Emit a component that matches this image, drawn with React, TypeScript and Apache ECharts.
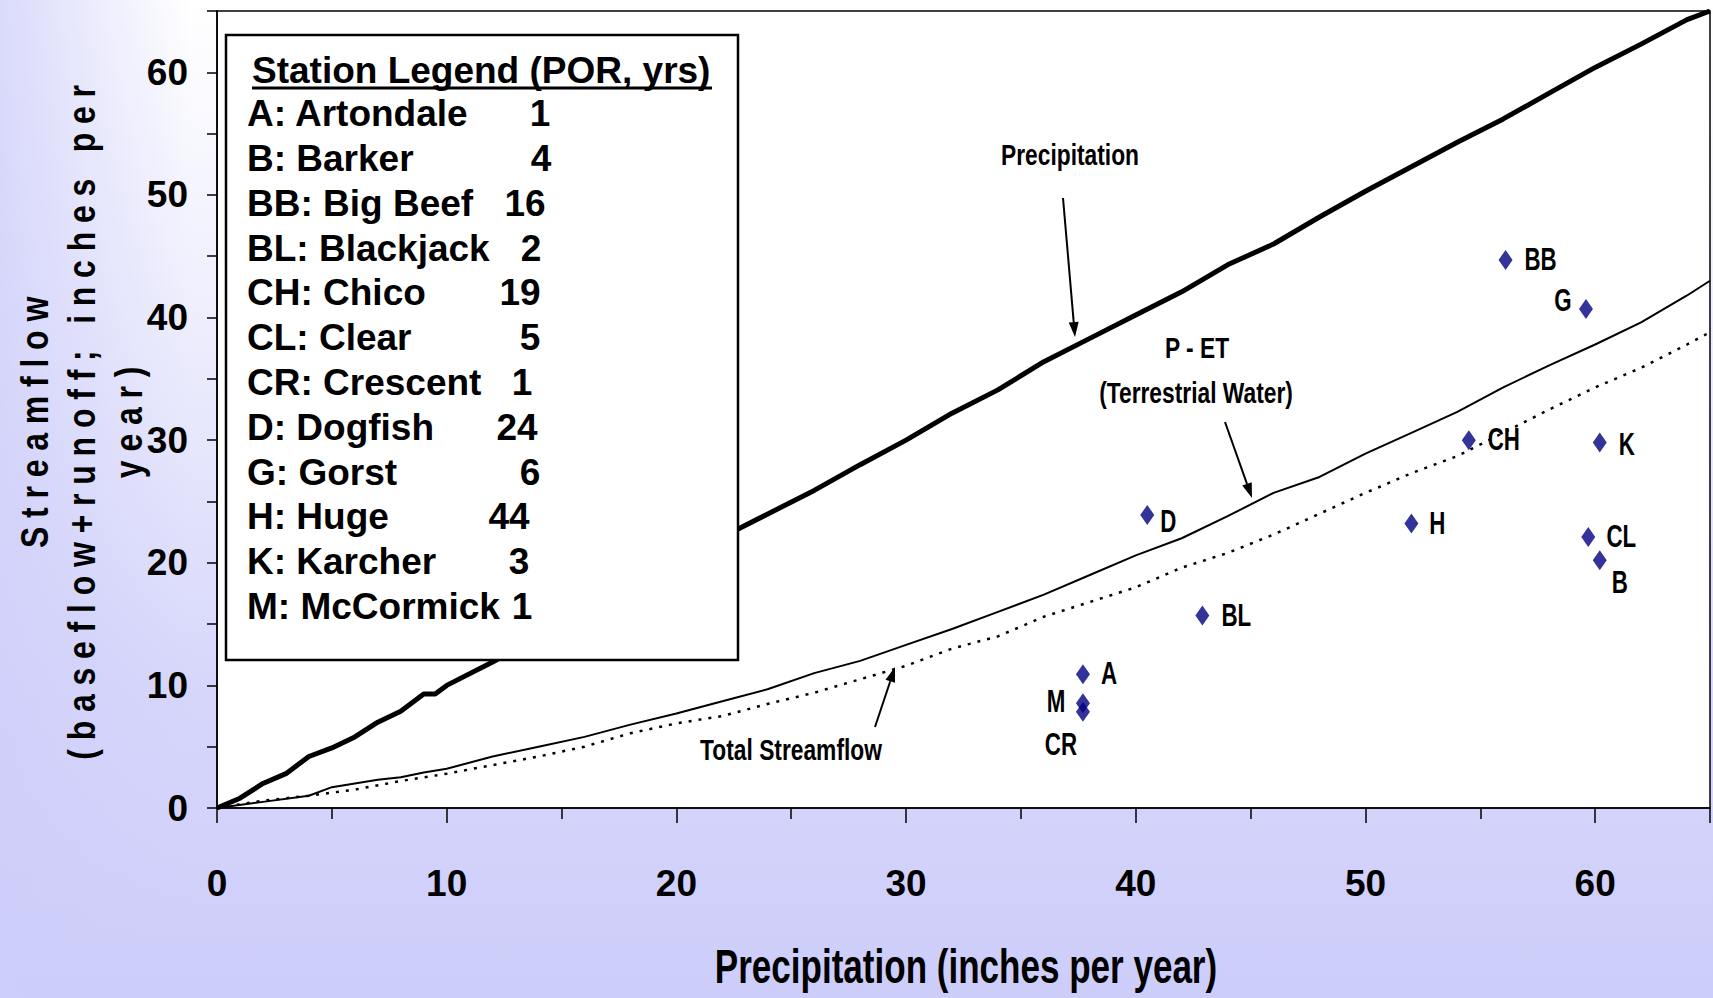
import React, { useEffect, useRef } from "react";
import * as echarts from "echarts";

// ---------- data ----------
const stationCodes = ["A", "B", "BB", "BL", "CH", "CL", "CR", "D", "G", "H", "K", "M"];
const stationNames = ["Artondale", "Barker", "Big Beef", "Blackjack", "Chico", "Clear", "Crescent", "Dogfish", "Gorst", "Huge", "Karcher", "McCormick"];
const stationPOR = [1, 4, 16, 2, 19, 5, 1, 24, 6, 44, 3, 1];
const stationPrecip = [37.7, 60.2, 56.1, 42.9, 54.5, 59.7, 37.7, 40.5, 59.6, 52.0, 60.2, 37.7];
const stationFlow = [10.9, 20.2, 44.7, 15.7, 30.0, 22.1, 7.85, 23.9, 40.7, 23.2, 29.8, 8.55];

const precipX = [0, 1, 2, 3, 4, 5, 6, 7, 8, 9, 9.5, 10, 12, 14, 16, 18, 20, 22, 24, 26, 28, 30, 32, 34, 36, 38, 40, 42, 44, 46, 48, 50, 52, 54, 56, 58, 60, 62, 64, 65];
const precipY = [0, 0.8, 2.0, 2.8, 4.2, 4.9, 5.8, 7.0, 7.9, 9.3, 9.3, 10.0, 11.9, 14.0, 16.1, 17.9, 20.2, 22.1, 24.0, 25.9, 28.0, 30.0, 32.2, 34.1, 36.4, 38.3, 40.2, 42.1, 44.3, 46.0, 48.2, 50.3, 52.3, 54.3, 56.2, 58.3, 60.4, 62.3, 64.3, 65.0];

const petX = [0, 2, 4, 5, 7, 8, 9, 10, 12, 14, 16, 18, 20, 22, 24, 26, 28, 30, 32, 34, 36, 38, 40, 42, 44, 46, 48, 50, 52, 54, 56, 58, 60, 62, 64, 65];
const petY = [0, 0.5, 1.0, 1.7, 2.3, 2.5, 2.9, 3.2, 4.2, 5.0, 5.8, 6.8, 7.7, 8.7, 9.7, 11.0, 12.0, 13.3, 14.6, 16.0, 17.4, 19.0, 20.6, 22.0, 23.8, 25.7, 27.0, 28.9, 30.6, 32.3, 34.3, 36.1, 37.8, 39.6, 41.8, 43.0];

const flowX = [0, 2, 4, 6, 8, 10, 12, 14, 16, 18, 20, 22, 24, 26, 28, 30, 32, 34, 36, 38, 40, 42, 44, 46, 48, 50, 52, 54, 56, 58, 60, 62, 64, 65];
const flowY = [0, 0.6, 1.0, 1.5, 2.2, 2.8, 3.5, 4.2, 5.0, 6.1, 6.9, 7.5, 8.5, 9.4, 10.5, 11.6, 13.0, 14.0, 15.6, 16.8, 18.0, 19.6, 20.8, 22.3, 24.0, 25.7, 27.3, 28.7, 30.6, 32.5, 34.3, 35.9, 37.8, 38.8];

const xMin = 0, xMax = 65, xStep = 10;
const yMin = 0, yMax = 65, yStep = 10;

const xTitle = "Precipitation (inches per year)";
const yTitle = "Streamflow\n(baseflow+runoff; inches per\nyear)";
const legendTitle = "Station Legend (POR, yrs)";

// ---------- styling / layout ----------
const ARIAL = "'Liberation Sans', Arial, sans-serif";
const SPACED = "'Liberation Sans', 'Spaced Narrow', Arial, sans-serif";

// label offsets (px) relative to each marker centre
const labelOffsets: Record<string, [number, number]> = {
  A: [26, -1], B: [20, 22], BB: [35, 0], BL: [34, 0], CH: [35, 0], CL: [33, 0],
  CR: [-22, 33], D: [21, 7], G: [-23, -8], H: [26, 0], K: [27, 2], M: [-27, -1],
};
const legendNumX = [540, 541, 525, 531, 520, 530, 522, 517, 530, 509, 519, 522];

function arrow(x1: number, y1: number, x2: number, y2: number): any[] {
  const a = Math.atan2(y2 - y1, x2 - x1);
  const L = 15, W = 5;
  const bx = x2 - L * Math.cos(a), by = y2 - L * Math.sin(a);
  const px = -Math.sin(a) * W, py = Math.cos(a) * W;
  return [
    { type: "line", z: 20, shape: { x1, y1, x2: bx, y2: by }, style: { stroke: "#000", lineWidth: 2 } },
    { type: "polygon", z: 20, shape: { points: [[x2, y2], [bx + px, by + py], [bx - px, by - py]] }, style: { fill: "#000" } },
  ];
}

function annText(text: string, x: number, y: number): any {
  return {
    type: "text", z: 20, x, y, scaleX: 0.76,
    style: { text, fill: "#000", fontSize: 30, fontWeight: "bold", fontFamily: ARIAL, align: "center", verticalAlign: "middle" },
  };
}

export default function App() {
  const ref = useRef<HTMLDivElement>(null);

  useEffect(() => {
    const styleEl = document.createElement("style");
    styleEl.textContent = `text[style*="Spaced Narrow"]{letter-spacing:10.7px;}`;
    document.head.appendChild(styleEl);

    const chart = echarts.init(ref.current!, null, { renderer: "svg" });

    const legendEls: any[] = [
      {
        type: "rect", z: 10, shape: { x: 226, y: 35, width: 512, height: 625 },
        style: { fill: "#fff", stroke: "#000", lineWidth: 2.5 },
      },
      {
        type: "text", z: 11, x: 252, y: 70,
        style: { text: legendTitle, fill: "#000", fontSize: 37, fontWeight: "bold", fontFamily: ARIAL, align: "left", verticalAlign: "middle" },
      },
      { type: "line", z: 11, shape: { x1: 252, y1: 88, x2: 712, y2: 88 }, style: { stroke: "#000", lineWidth: 3 } },
    ];
    stationCodes.forEach((c, i) => {
      const y = 113.6 + i * 44.8;
      legendEls.push({
        type: "text", z: 11, x: 247, y,
        style: { text: `${c}: ${stationNames[i]}`, fill: "#000", fontSize: 37, fontWeight: "bold", fontFamily: ARIAL, align: "left", verticalAlign: "middle" },
      });
      legendEls.push({
        type: "text", z: 11, x: legendNumX[i], y,
        style: { text: String(stationPOR[i]), fill: "#000", fontSize: 37, fontWeight: "bold", fontFamily: ARIAL, align: "center", verticalAlign: "middle" },
      });
    });

    const option: any = {
      animation: false,
      backgroundColor: "transparent",
      grid: {
        left: 217, top: 11, right: -4, bottom: 190,
        show: true, backgroundColor: "#ffffff", borderColor: "#000", borderWidth: 1.5,
      },
      xAxis: {
        type: "value", min: xMin, max: xMax, interval: xStep,
        axisLine: { show: true, onZero: false, lineStyle: { color: "#000", width: 1.5 } },
        axisTick: { show: true, inside: false, length: 15, lineStyle: { color: "#000", width: 1.5 } },
        minorTick: { show: true, splitNumber: 2, length: 11, lineStyle: { color: "#000", width: 1.5 } },
        splitLine: { show: false },
        axisLabel: {
          margin: 57, color: "#000", fontSize: 37, fontWeight: "bold", fontFamily: ARIAL,
          formatter: (v: number) => (v > 60 ? "" : String(v)),
        },
      },
      yAxis: {
        type: "value", min: yMin, max: yMax, interval: yStep,
        axisLine: { show: true, onZero: false, lineStyle: { color: "#000", width: 1.5 } },
        axisTick: { show: true, inside: false, length: 10, lineStyle: { color: "#000", width: 1.5 } },
        minorTick: { show: true, splitNumber: 2, length: 10, lineStyle: { color: "#000", width: 1.5 } },
        splitLine: { show: false },
        axisLabel: {
          margin: 29, color: "#000", fontSize: 37, fontWeight: "bold", fontFamily: ARIAL,
          formatter: (v: number) => (v > 60 ? "" : String(v)),
        },
      },
      series: [
        {
          name: "Precipitation", type: "line", showSymbol: false, z: 3,
          data: precipX.map((x, i) => [x, precipY[i]]),
          lineStyle: { color: "#000", width: 5 },
        },
        {
          name: "P - ET", type: "line", showSymbol: false, z: 3,
          data: petX.map((x, i) => [x, petY[i]]),
          lineStyle: { color: "#000", width: 2 },
        },
        {
          name: "Total Streamflow", type: "line", showSymbol: false, z: 3,
          data: flowX.map((x, i) => [x, flowY[i]]),
          lineStyle: { color: "#000", width: 2.5, type: [3, 7] },
        },
        {
          name: "Stations", type: "scatter", z: 5,
          symbol: "diamond", symbolSize: [14, 20],
          itemStyle: { color: "#000080" },
          data: stationCodes.map((c, i) => ({ name: c, value: [stationPrecip[i], stationFlow[i]] })),
        },
        {
          name: "Station labels", type: "custom", z: 6, silent: true,
          data: stationCodes.map((c, i) => [stationPrecip[i], stationFlow[i], i]),
          renderItem: (params: any, api: any) => {
            const i = api.value(2);
            const p = api.coord([api.value(0), api.value(1)]);
            const c = stationCodes[i];
            const off = labelOffsets[c];
            return {
              type: "text", x: p[0] + off[0], y: p[1] + off[1], scaleX: 0.72,
              style: { text: c, fill: "#000", fontSize: 31, fontWeight: "bold", fontFamily: ARIAL, align: "center", verticalAlign: "middle" },
            };
          },
        },
      ],
      graphic: [
        ...legendEls,
        annText("Precipitation", 1070, 155),
        ...arrow(1063, 198, 1075, 337),
        annText("P - ET", 1197, 348),
        annText("(Terrestrial Water)", 1196, 393),
        ...arrow(1225, 422, 1252, 498),
        annText("Total Streamflow", 791, 750),
        ...arrow(875, 727, 895, 667),
        {
          type: "text", z: 20, x: 966, y: 966, scaleX: 0.73,
          style: { text: xTitle, fill: "#000", fontSize: 48, fontWeight: "bold", fontFamily: ARIAL, align: "center", verticalAlign: "middle" },
        },
        {
          type: "text", z: 20, x: 82, y: 418, rotation: Math.PI / 2, scaleX: 0.82,
          style: {
            text: yTitle, fill: "#000", fontSize: 39, fontWeight: "bold", fontFamily: SPACED,
            align: "center", verticalAlign: "middle", lineHeight: 47,
          },
        },
      ],
    };

    chart.setOption(option);
    return () => {
      chart.dispose();
      styleEl.remove();
    };
  }, []);

  return (
    <div
      style={{
        position: "absolute", left: 0, top: 0, width: 1713, height: 998,
        background:
          "linear-gradient(to right, rgba(206,206,250,0.75) 0px, rgba(206,206,250,0) 190px), linear-gradient(to bottom, #ffffff 0%, #ececfd 35%, #d6d6fb 70%, #cdcdfa 100%)",
      }}
    >
      <div ref={ref} style={{ width: 1713, height: 998 }} />
    </div>
  );
}
